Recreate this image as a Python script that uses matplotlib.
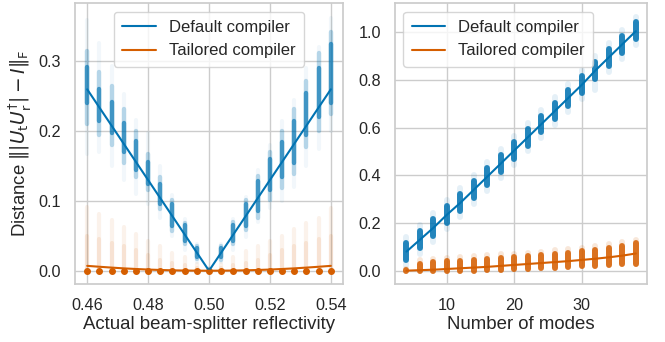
import matplotlib
matplotlib.use("Agg")
import matplotlib.pyplot as plt
import seaborn as sns

sns.set_theme(style="whitegrid")
plt.rcParams["font.family"] = ["Liberation Sans", "DejaVu Sans"]

BLUE = "#0173b2"
ORANGE = "#d55e00"

# ---- Panel (a): distance vs. actual reflectivity ----
refl = [0.460, 0.464, 0.468, 0.472, 0.476, 0.480, 0.484, 0.488, 0.492, 0.496, 0.500,
        0.504, 0.508, 0.512, 0.516, 0.520, 0.524, 0.528, 0.532, 0.536, 0.540]

default_mean_a = [0.260, 0.234, 0.208, 0.182, 0.156, 0.130, 0.104, 0.078, 0.052, 0.026, 0.000,
                  0.026, 0.052, 0.078, 0.104, 0.130, 0.156, 0.182, 0.208, 0.234, 0.260]
default_core_lo_a = [0.240, 0.215, 0.198, 0.170, 0.145, 0.124, 0.096, 0.064, 0.042, 0.020, 0.000,
                     0.019, 0.043, 0.064, 0.085, 0.115, 0.135, 0.155, 0.195, 0.220, 0.240]
default_core_hi_a = [0.292, 0.260, 0.242, 0.212, 0.186, 0.156, 0.125, 0.096, 0.065, 0.033, 0.001,
                     0.033, 0.066, 0.096, 0.128, 0.160, 0.185, 0.215, 0.255, 0.290, 0.325]
default_mid_lo_a = [0.210, 0.195, 0.180, 0.155, 0.135, 0.115, 0.088, 0.057, 0.038, 0.017, 0.000,
                    0.015, 0.039, 0.058, 0.075, 0.102, 0.118, 0.138, 0.178, 0.200, 0.225]
default_mid_hi_a = [0.315, 0.285, 0.265, 0.232, 0.200, 0.168, 0.134, 0.102, 0.069, 0.035, 0.002,
                    0.035, 0.070, 0.101, 0.136, 0.170, 0.200, 0.232, 0.272, 0.312, 0.342]
default_tail_lo_a = [0.168, 0.170, 0.150, 0.130, 0.110, 0.095, 0.075, 0.050, 0.030, 0.012, 0.000,
                     0.012, 0.030, 0.048, 0.070, 0.090, 0.100, 0.120, 0.150, 0.175, 0.200]
default_tail_hi_a = [0.360, 0.326, 0.293, 0.254, 0.216, 0.197, 0.150, 0.108, 0.074, 0.038, 0.004,
                     0.038, 0.074, 0.106, 0.145, 0.180, 0.215, 0.245, 0.290, 0.320, 0.362]

tailored_mean_a = [0.0070, 0.0057, 0.0045, 0.0034, 0.0025, 0.0017, 0.0011, 0.0006, 0.0003, 0.0001, 0.0,
                   0.0001, 0.0003, 0.0006, 0.0011, 0.0017, 0.0025, 0.0034, 0.0045, 0.0057, 0.0070]
tailored_core_hi_a = [0.050, 0.045, 0.040, 0.035, 0.030, 0.022, 0.016, 0.011, 0.008, 0.004, 0.000,
                      0.004, 0.008, 0.011, 0.016, 0.022, 0.030, 0.035, 0.040, 0.045, 0.050]
tailored_tail_hi_a = [0.092, 0.082, 0.072, 0.062, 0.052, 0.042, 0.035, 0.026, 0.020, 0.010, 0.002,
                      0.010, 0.020, 0.028, 0.035, 0.042, 0.050, 0.060, 0.068, 0.075, 0.090]
tailored_floor_a = [0.0] * 21

# ---- Panel (b): distance vs. number of modes ----
modes = [4, 6, 8, 10, 12, 14, 16, 18, 20, 22, 24, 26, 28, 30, 32, 34, 36, 38]

default_mean_b = [0.080, 0.130, 0.180, 0.235, 0.285, 0.340, 0.395, 0.450, 0.505,
                  0.560, 0.615, 0.670, 0.725, 0.780, 0.840, 0.895, 0.950, 1.005]
default_core_lo_b = [0.045, 0.095, 0.145, 0.200, 0.250, 0.305, 0.360, 0.415, 0.470,
                     0.525, 0.580, 0.635, 0.690, 0.745, 0.805, 0.860, 0.915, 0.970]
default_core_hi_b = [0.115, 0.165, 0.215, 0.270, 0.320, 0.375, 0.430, 0.485, 0.540,
                     0.595, 0.650, 0.705, 0.760, 0.815, 0.875, 0.930, 0.985, 1.045]
default_tail_lo_b = [0.020, 0.070, 0.120, 0.175, 0.225, 0.280, 0.335, 0.390, 0.445,
                     0.500, 0.555, 0.610, 0.665, 0.720, 0.760, 0.835, 0.890, 0.945]
default_tail_hi_b = [0.140, 0.190, 0.240, 0.295, 0.345, 0.400, 0.455, 0.510, 0.565,
                     0.620, 0.675, 0.730, 0.785, 0.840, 0.900, 0.955, 1.010, 1.065]

tailored_mean_b = [0.000, 0.002, 0.004, 0.007, 0.010, 0.013, 0.016, 0.020, 0.024,
                   0.028, 0.032, 0.036, 0.040, 0.045, 0.050, 0.056, 0.063, 0.072]
tailored_core_lo_b = [0.000, 0.000, 0.000, 0.000, 0.000, 0.000, 0.002, 0.004, 0.007,
                      0.009, 0.011, 0.013, 0.016, 0.018, 0.021, 0.024, 0.027, 0.030]
tailored_core_hi_b = [0.003, 0.030, 0.035, 0.040, 0.042, 0.045, 0.050, 0.053, 0.056,
                      0.060, 0.065, 0.070, 0.075, 0.082, 0.088, 0.095, 0.105, 0.115]
tailored_tail_hi_b = [0.005, 0.045, 0.050, 0.055, 0.057, 0.060, 0.065, 0.068, 0.071,
                      0.075, 0.080, 0.085, 0.090, 0.097, 0.103, 0.110, 0.120, 0.128]


def spread(ax, x, lo, hi, color, alpha, width, z=1):
    lc = ax.vlines(x, lo, hi, colors=color, alpha=alpha, linewidth=width, zorder=z)
    lc.set_capstyle("round")
    return lc


fig = plt.figure(figsize=(6.65, 3.42), dpi=100)
ax1 = fig.add_axes([0.1128, 0.1696, 0.4030, 0.8202])
ax2 = fig.add_axes([0.5940, 0.1696, 0.3794, 0.8202])

# left panel clouds
spread(ax1, refl, tailored_floor_a, tailored_tail_hi_a, ORANGE, 0.08, 3.0)
spread(ax1, refl, tailored_floor_a, tailored_core_hi_a, ORANGE, 0.10, 3.0)
spread(ax1, refl, default_tail_lo_a, default_tail_hi_a, BLUE, 0.05, 3.0)
spread(ax1, refl, default_mid_lo_a, default_mid_hi_a, BLUE, 0.25, 3.2)
spread(ax1, refl, default_core_lo_a, default_core_hi_a, BLUE, 0.65, 3.2)
ax1.plot(refl, tailored_floor_a, "o", color=ORANGE, ms=4, zorder=3)
ax1.plot(refl, default_mean_a, color=BLUE, lw=1.5, zorder=4, label="Default compiler")
ax1.plot(refl, tailored_mean_a, color=ORANGE, lw=1.5, zorder=4, label="Tailored compiler")

ax1.set_xlim(0.456, 0.544)
ax1.set_ylim(-0.019, 0.383)
ax1.set_xticks([0.46, 0.48, 0.50, 0.52, 0.54])
ax1.set_yticks([0.0, 0.1, 0.2, 0.3])
ax1.set_xlabel("Actual beam-splitter reflectivity", fontsize=13.4, labelpad=2)
ax1.set_ylabel(r"Distance $\||U_{\mathrm{t}}U_{\mathrm{r}}^{\dagger}| - I\|_{\mathrm{F}}$",
               fontsize=13.4, labelpad=4)
ax1.legend(loc="upper center", fontsize=12, borderpad=0.5)

# right panel clouds
spread(ax2, modes, default_tail_lo_b, default_tail_hi_b, BLUE, 0.10, 4.3)
spread(ax2, modes, default_core_lo_b, default_core_hi_b, BLUE, 0.85, 4.3)
spread(ax2, modes, tailored_core_lo_b, tailored_tail_hi_b, ORANGE, 0.15, 4.3)
spread(ax2, modes, tailored_core_lo_b, tailored_core_hi_b, ORANGE, 0.85, 4.3)
ax2.plot(modes, default_mean_b, color=BLUE, lw=1.5, zorder=4, label="Default compiler")
ax2.plot(modes, tailored_mean_b, color=ORANGE, lw=1.5, zorder=4, label="Tailored compiler")

ax2.set_xlim(2.3, 39.7)
ax2.set_ylim(-0.056, 1.121)
ax2.set_xticks([10, 20, 30])
ax2.set_yticks([0.0, 0.2, 0.4, 0.6, 0.8, 1.0])
ax2.set_xlabel("Number of modes", fontsize=13.4, labelpad=2)
ax2.legend(loc="upper left", fontsize=12, borderpad=0.5)

for ax in (ax1, ax2):
    ax.tick_params(labelsize=11.7, pad=4)

fig.savefig("out.png", dpi=100)
